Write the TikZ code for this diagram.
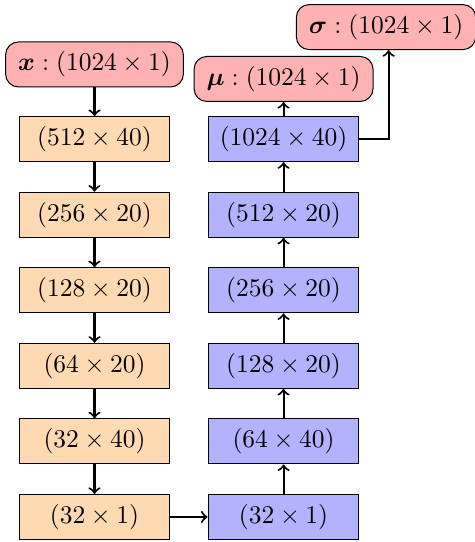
\documentclass[tikz,border=0pt]{standalone}
\usepackage{amsmath,amssymb}
\usepackage{tikz}

\begin{document}
\begin{tikzpicture}[>=to,
    enc/.style={draw,fill=orange!30,minimum width=2.08cm,minimum height=.62cm},
    dec/.style={draw,fill=blue!30,minimum width=2.08cm,minimum height=.62cm},
    io/.style={draw,fill=red!30,rounded corners=5pt,inner xsep=4.9pt,minimum height=.62cm},
    flow/.style={->,thick}]
  \useasboundingbox (0,0) rectangle (6.537,7.474);
  % encoder (left) and decoder (right), bottom row first
  \foreach \lab [count=\i from 0] in {32\times 1,32\times 40,64\times 20,128\times 20,256\times 20,512\times 40}
    \node[enc] (e\i) at (1.303,{.345+1.042*\i}) {$(\lab)$};
  \foreach \lab [count=\i from 0] in {32\times 1,64\times 40,128\times 20,256\times 20,512\times 20,1024\times 40}
    \node[dec] (d\i) at (3.910,{.345+1.042*\i}) {$(\lab)$};
  \node[io] (x) at (1.303,6.585) {$\boldsymbol{x}:(1024\times 1)$};
  \node[io] (mu) at (3.910,6.385) {$\boldsymbol{\mu}:(1024\times 1)$};
  \node[io] (sig) at (5.323,7.10) {$\boldsymbol{\sigma}:(1024\times 1)$};
  \draw[flow] (x) -- (e5);
  \foreach \i [evaluate=\i as \j using int(\i-1)] in {5,...,1}
    \draw[flow] (e\i) -- (e\j);
  \draw[flow] (e0) -- (d0);
  \foreach \i [evaluate=\i as \j using int(\i+1)] in {0,...,4}
    \draw[flow] (d\i) -- (d\j);
  \draw[flow] (d5) -- (mu);
  \draw[flow] (d5.east) -| ([xshift=1pt]sig.south);
\end{tikzpicture}
\end{document}
